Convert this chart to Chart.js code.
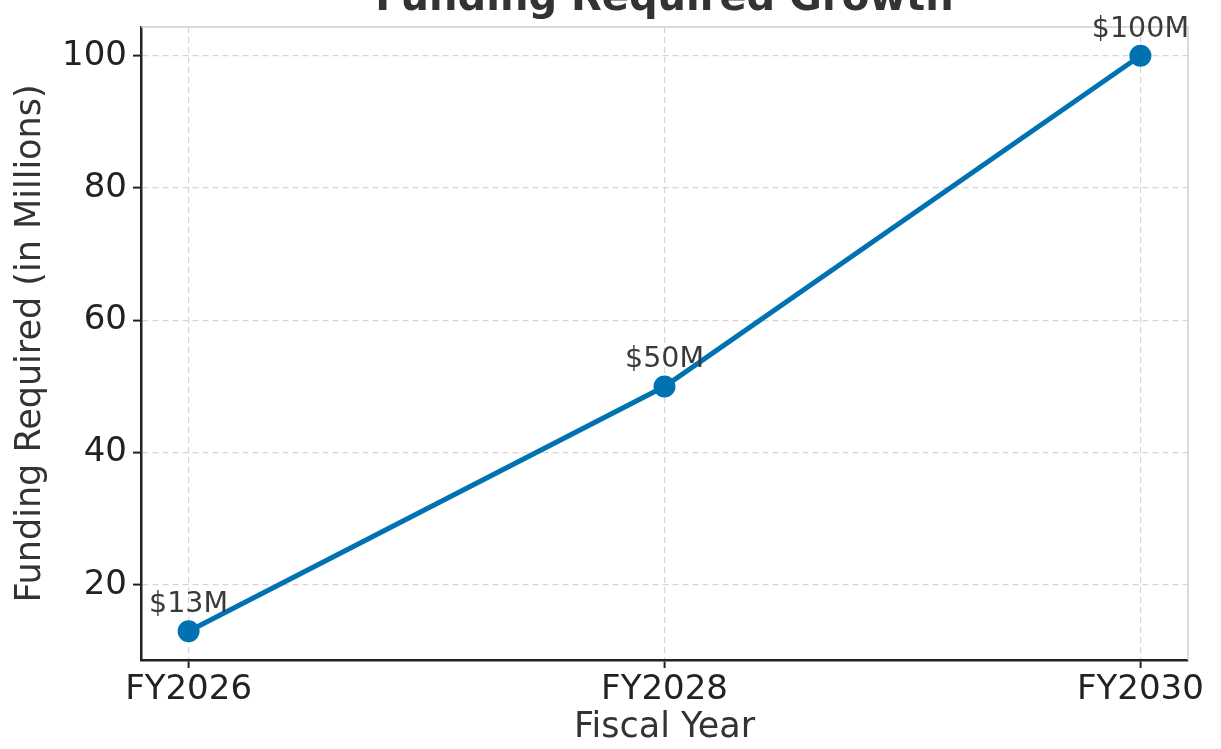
<!DOCTYPE html>
<html>
<head>
<meta charset="utf-8">
<script src="https://cdn.jsdelivr.net/npm/chart.js@4"></script>
<style>
  html, body { margin: 0; padding: 0; background: #fff; }
  #wrap { width: 1221px; height: 749px; }
</style>
</head>
<body>
<div id="wrap"><canvas id="myChart" width="1221" height="749"></canvas></div>
<script>
'use strict'

const years = ['FY2026', 'FY2028', 'FY2030']
const funding = [13, 50, 100]
const yTicks = [20, 40, 60, 80, 100]
const titleText = 'Funding Required Growth'

const FONT = '"DejaVu Sans", sans-serif'
const lineColor = '#0072b2'

// top and right spines, title, point labels
const extras = {
  id: 'extras',
  afterDraw(chart) {
    const { ctx, chartArea: a } = chart
    ctx.save()
    ctx.strokeStyle = '#d0d0d0'
    ctx.lineWidth = 1.5
    ctx.beginPath()
    ctx.moveTo(a.left, a.top)
    ctx.lineTo(a.right, a.top)
    ctx.lineTo(a.right, a.bottom)
    ctx.stroke()

    ctx.fillStyle = '#333'
    ctx.font = 'bold 40px ' + FONT
    ctx.textAlign = 'center'
    ctx.textBaseline = 'alphabetic'
    ctx.fillText(titleText, (a.left + a.right) / 2, 10)

    const meta = chart.getDatasetMeta(0)
    ctx.font = '28.5px ' + FONT
    ctx.fillStyle = '#3a3a3a'
    meta.data.forEach((pt, i) => {
      ctx.fillText('$' + funding[i] + 'M', pt.x, pt.y - 19)
    })
    ctx.restore()
  }
}

const ctx = document.getElementById('myChart')

const myChart = new Chart(ctx, {
  type: 'line',
  data: {
    datasets: [
      {
        data: funding.map((v, i) => ({ x: i, y: v })),
        borderColor: lineColor,
        backgroundColor: lineColor,
        borderWidth: 5,
        pointRadius: 8.5,
        pointHoverRadius: 8.5,
        tension: 0,
      },
    ],
  },
  options: {
    responsive: false,
    animation: false,
    layout: { padding: { top: 27, right: 33, left: 0, bottom: 0 } },
    plugins: { legend: { display: false }, tooltip: { enabled: false } },
    scales: {
      x: {
        type: 'linear',
        min: -0.1,
        max: 2.1,
        afterBuildTicks: (s) => { s.ticks = years.map((_, i) => ({ value: i })) },
        afterFit: (s) => { s.height = 89 },
        ticks: {
          callback: (v) => years[v],
          color: '#222',
          font: { family: FONT, size: 34 },
          padding: 2,
          maxRotation: 0,
        },
        grid: {
          color: '#d5d5d5',
          lineWidth: 1.2,
          tickColor: '#222',
          tickLength: 8,
          tickWidth: 2,
        },
        border: { color: '#222', width: 2.5, dash: [6, 4] },
        title: {
          display: true,
          text: 'Fiscal Year',
          color: '#333',
          font: { family: FONT, size: 35 },
          padding: { top: 0, bottom: 0 },
        },
      },
      y: {
        min: 8.65,
        max: 104.35,
        afterBuildTicks: (s) => { s.ticks = yTicks.map((v) => ({ value: v })) },
        afterFit: (s) => { s.width = 141 },
        ticks: {
          color: '#222',
          font: { family: FONT, size: 34 },
          padding: 6,
        },
        grid: {
          color: '#d5d5d5',
          lineWidth: 1.2,
          tickColor: '#222',
          tickLength: 8,
          tickWidth: 2,
        },
        border: { color: '#222', width: 2.5, dash: [6, 4] },
        title: {
          display: true,
          text: 'Funding Required (in Millions)',
          color: '#333',
          font: { family: FONT, size: 35 },
          padding: { top: 10, bottom: 4 },
        },
      },
    },
  },
  plugins: [extras],
})
</script>
</body>
</html>
